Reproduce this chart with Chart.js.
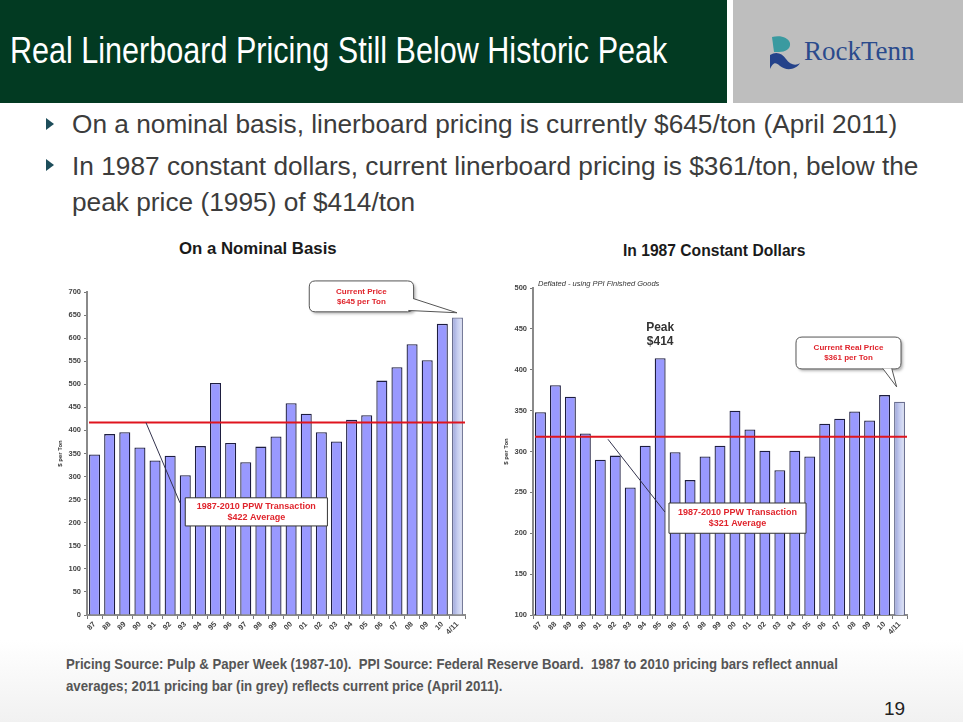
<!DOCTYPE html>
<html>
<head>
<meta charset="utf-8">
<script src="https://cdn.jsdelivr.net/npm/chart.js@4.4.1/dist/chart.umd.min.js"></script>
<style>
  body { margin: 0; width: 963px; height: 722px; position: relative; overflow: hidden;
         background: linear-gradient(#fff 0, #fff 640px, #f1f1f1 722px); font-family: "Liberation Sans", Arial, sans-serif; }
  .abs { position: absolute; white-space: nowrap; line-height: 1; }
  .fit { transform-origin: 0 0; }
  #band { left: 0; top: 0; width: 727px; height: 103px; background: #023a22; }
  #logoBox { left: 733px; top: 0; width: 230px; height: 103px; background: #bebebe; }
  #title { left: 10px; top: 33px; font-size: 36px; color: #fff; }
  .bullet { font-size: 26.5px; color: #3c3c3c; left: 72px; }
  .tri { position: absolute; width: 0; height: 0; border-left: 8px solid #1d4d5a;
         border-top: 6px solid transparent; border-bottom: 6px solid transparent; }
  .ctitle { font-size: 17px; font-weight: bold; color: #1a1a1a; }
  .foot { left: 66px; font-size: 14px; font-weight: bold; color: #555; }
  canvas { position: absolute; }
</style>
</head>
<body>
<div id="band" class="abs"></div>
<div id="logoBox" class="abs">
  <svg width="40" height="40" style="position:absolute;left:33px;top:33px" viewBox="0 0 40 40">
    <path d="M6 4 C14 2 22 4 24 10 C25 16 19 19 13 19 L8 19 Z" fill="#3a9aa0"/>
    <path d="M4 22 C10 18 16 20 20 26 C24 32 30 33 34 30 C30 37 20 38 14 33 C10 30 8 28 4 36 Z" fill="#24428a"/>
  </svg>
  <div class="abs" style="left:71px;top:38px;font-family:'Liberation Serif','DejaVu Serif',serif;font-size:27px;color:#2a4a8c;">RockTenn</div>
</div>
<div id="title" class="abs fit" data-w="657">Real Linerboard Pricing Still Below Historic Peak</div>

<div class="tri" style="left:46px;top:118px"></div>
<div class="abs bullet fit" data-w="825" style="top:111px">On a nominal basis, linerboard pricing is currently $645/ton (April 2011)</div>
<div class="tri" style="left:46px;top:159px"></div>
<div class="abs bullet fit" data-w="846" style="top:153px">In 1987 constant dollars, current linerboard pricing is $361/ton, below the</div>
<div class="abs bullet fit" data-w="343" style="top:189px">peak price (1995) of $414/ton</div>

<div class="abs ctitle fit" data-w="158" style="left:179px;top:240px">On a Nominal Basis</div>
<div class="abs ctitle fit" data-w="182" style="left:623px;top:242px">In 1987 Constant Dollars</div>

<canvas id="nominalChart" width="460" height="378" style="left:20px;top:272px"></canvas>
<canvas id="realChart" width="460" height="382" style="left:475px;top:268px"></canvas>

<div class="abs foot fit" data-w="772" style="top:657px">Pricing Source: Pulp &amp; Paper Week (1987-10).&nbsp; PPI Source: Federal Reserve Board.&nbsp; 1987 to 2010 pricing bars reflect annual</div>
<div class="abs foot fit" data-w="436" style="top:679px">averages; 2011 pricing bar (in grey) reflects current price (April 2011).</div>
<div class="abs" style="left:884px;top:699px;font-size:19px;color:#222">19</div>

<script>
// values
const years = ['87', '88', '89', '90', '91', '92', '93', '94', '95', '96', '97', '98', '99',
               '00', '01', '02', '03', '04', '05', '06', '07', '08', '09', '10', '4/11'];
const nominalPrice = [348, 392, 396, 363, 335, 345, 303, 366, 503, 373, 331, 365, 387,
                      459, 436, 396, 376, 423, 433, 508, 537, 587, 552, 631, 645];
const realPrice = [348, 381, 367, 322, 290, 295, 256, 307, 414, 299, 265, 294, 307,
                   350, 327, 301, 277, 301, 294, 334, 340, 349, 338, 369, 361];
const nominalAvg = 417;
const realAvg = 318;

// fit text widths to the slide
document.querySelectorAll('.fit').forEach(el => {
  const w = parseFloat(el.dataset.w);
  el.style.transform = 'scaleX(' + (w / el.scrollWidth) + ')';
});

function barFill(context) {
  const last = years.length - 1;
  if (context.dataIndex !== last) return '#9999ff';
  const chart = context.chart;
  if (!chart.chartArea || !chart.scales.x) return '#c4cbee';
  const x = chart.scales.x;
  const half = x.width / years.length * 0.73 / 2;
  const cx = x.getPixelForValue(last);
  const g = chart.ctx.createLinearGradient(cx - half, 0, cx + half, 0);
  g.addColorStop(0, '#98a1d8');
  g.addColorStop(0.5, '#c5ccef');
  g.addColorStop(1, '#e3e8f8');
  return g;
}

function roundRect(ctx, x, y, w, h, r) {
  ctx.beginPath();
  ctx.moveTo(x + r, y);
  ctx.lineTo(x + w - r, y);
  ctx.quadraticCurveTo(x + w, y, x + w, y + r);
  ctx.lineTo(x + w, y + h - r);
  ctx.quadraticCurveTo(x + w, y + h, x + w - r, y + h);
  ctx.lineTo(x + r, y + h);
  ctx.quadraticCurveTo(x, y + h, x, y + h - r);
  ctx.lineTo(x, y + r);
  ctx.quadraticCurveTo(x, y, x + r, y);
  ctx.closePath();
}

const notesPlugin = {
  id: 'notes',
  afterDatasetsDraw(chart, args, opts) {
    const { ctx, chartArea, scales: { x, y } } = chart;
    const px = i => x.getPixelForValue(i);
    const py = v => y.getPixelForValue(v);
    ctx.save();

    // average line
    ctx.strokeStyle = '#e0141e';
    ctx.lineWidth = 2;
    ctx.beginPath();
    ctx.moveTo(chartArea.left + 2, py(opts.avg));
    ctx.lineTo(chartArea.right, py(opts.avg));
    ctx.stroke();

    // connector to the average box
    const c = opts.connector;
    ctx.strokeStyle = '#33334d';
    ctx.lineWidth = 1;
    ctx.beginPath();
    ctx.moveTo(px(c[0][0]), py(c[0][1]));
    ctx.lineTo(px(c[1][0]), py(c[1][1]));
    ctx.stroke();

    opts.boxes.forEach(b => {
      const x1 = px(b.x[0]), x2 = px(b.x[1]);
      const y1 = py(b.y[0]), y2 = py(b.y[1]);
      ctx.save();
      if (b.rounded) {
        ctx.shadowColor = 'rgba(0,0,0,0.3)';
        ctx.shadowBlur = 3;
        ctx.shadowOffsetX = 2;
        ctx.shadowOffsetY = 2;
        roundRect(ctx, x1, y1, x2 - x1, y2 - y1, 6);
      } else {
        ctx.beginPath();
        ctx.rect(x1, y1, x2 - x1, y2 - y1);
      }
      ctx.fillStyle = '#fff';
      ctx.fill();
      ctx.restore();
      ctx.strokeStyle = b.rounded ? '#555' : '#333';
      ctx.lineWidth = 1;
      ctx.stroke();
      if (b.tail) {
        const t = b.tail.map(p => [px(p[0]), py(p[1])]);
        ctx.beginPath();
        ctx.moveTo(t[0][0], t[0][1]);
        ctx.lineTo(t[2][0], t[2][1]);
        ctx.lineTo(t[1][0], t[1][1]);
        ctx.closePath();
        ctx.fillStyle = '#fff';
        ctx.fill();
        ctx.beginPath();
        ctx.moveTo(t[0][0], t[0][1]);
        ctx.lineTo(t[2][0], t[2][1]);
        ctx.lineTo(t[1][0], t[1][1]);
        ctx.strokeStyle = '#555';
        ctx.stroke();
      }
      ctx.fillStyle = '#e0242c';
      ctx.font = 'bold ' + b.size + 'px "Liberation Sans", Arial, sans-serif';
      ctx.textAlign = 'center';
      ctx.textBaseline = 'middle';
      const cx = (x1 + x2) / 2, cy = (y1 + y2) / 2;
      const gap = b.size * 1.25;
      b.lines.forEach((line, k) => {
        ctx.fillText(line, cx, cy + (k - (b.lines.length - 1) / 2) * gap);
      });
    });

    (opts.texts || []).forEach(t => {
      ctx.fillStyle = t.color;
      ctx.font = t.font;
      ctx.textAlign = t.align;
      ctx.textBaseline = 'alphabetic';
      const tx = t.at === 'left' ? chartArea.left + 5 : px(t.i);
      ctx.fillText(t.text, tx, py(t.v));
    });
    ctx.restore();
  }
};

function makeChart(id, values, yMin, yMax, notes) {
  return new Chart(document.getElementById(id), {
    type: 'bar',
    data: {
      labels: years,
      datasets: [{
        data: values,
        backgroundColor: barFill,
        borderColor: c => c.dataIndex === years.length - 1 ? '#6a6f90' : '#1e1e40',
        borderWidth: 1.3,
        borderSkipped: 'bottom',
        categoryPercentage: 1,
        barPercentage: 0.73
      }]
    },
    options: {
      responsive: false,
      animation: false,
      layout: { padding: notes.padding },
      plugins: {
        legend: { display: false },
        tooltip: { enabled: false },
        notes: notes
      },
      scales: {
        x: {
          grid: { drawOnChartArea: false, drawTicks: true, tickLength: 4, color: '#777', offset: true },
          border: { display: true, color: '#8a8a8a', width: 2 },
          ticks: { autoSkip: false, minRotation: 45, maxRotation: 45, padding: 1, color: '#444',
                   font: { size: 7.5, weight: 'bold', family: '"Liberation Sans", Arial' } },
          afterFit: s => { s.height = 35; }
        },
        y: {
          min: yMin,
          max: yMax,
          grid: { drawOnChartArea: false, drawTicks: true, tickLength: 3, color: '#777' },
          border: { display: true, color: '#8a8a8a', width: 2 },
          ticks: { stepSize: 50, padding: 3, color: '#444',
                   font: { size: 7.5, weight: 'bold', family: '"Liberation Sans", Arial' } },
          title: { display: true, text: '$ per Ton', padding: 0, color: '#333',
                   font: { size: 6, weight: 'bold', family: '"Liberation Sans", Arial' } },
          afterFit: s => { s.width = 30; }
        }
      }
    },
    plugins: [notesPlugin]
  });
}

makeChart('nominalChart', nominalPrice, 0, 700, {
  padding: { left: 37, right: 15, top: 20, bottom: 0 },
  avg: nominalAvg,
  connector: [[3.4, nominalAvg], [5.65, 243]],
  boxes: [
    { x: [14.2, 21.1], y: [724, 657], rounded: true, size: 8,
      lines: ['Current Price', '$645 per Ton'],
      tail: [[21.06, 686], [20.75, 660], [23.97, 655]] },
    { x: [6.0, 15.4], y: [254, 193], rounded: false, size: 9,
      lines: ['1987-2010 PPW Transaction', '$422 Average'] }
  ]
});

makeChart('realChart', realPrice, 100, 500, {
  padding: { left: 28, right: 28, top: 20, bottom: 0 },
  avg: realAvg,
  connector: [[4.51, 315], [8.32, 226]],
  boxes: [
    { x: [17.08, 24.1], y: [440, 401], rounded: true, size: 8,
      lines: ['Current Real Price', '$361 per Ton'],
      tail: [[22.88, 401.6], [23.48, 401.6], [23.81, 379]] },
    { x: [8.59, 17.75], y: [237, 200], rounded: false, size: 9,
      lines: ['1987-2010 PPW Transaction', '$321 Average'] }
  ],
  texts: [
    { text: 'Deflated - using PPI Finished Goods', at: 'left', v: 503, align: 'left', color: '#333',
      font: 'italic 7.5px "Liberation Sans", Arial, sans-serif' },
    { text: 'Peak', i: 8, v: 447, align: 'center', color: '#333',
      font: 'bold 12px "Liberation Sans", Arial, sans-serif' },
    { text: '$414', i: 8, v: 430, align: 'center', color: '#333',
      font: 'bold 12px "Liberation Sans", Arial, sans-serif' }
  ]
});
</script>
</body>
</html>
